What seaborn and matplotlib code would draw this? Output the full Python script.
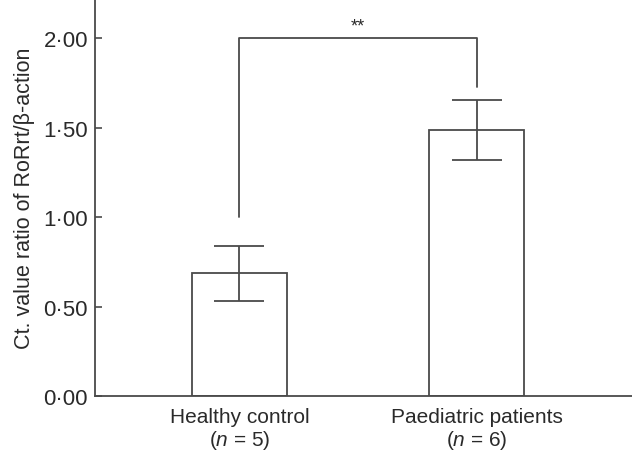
import matplotlib
matplotlib.use("Agg")
import matplotlib.pyplot as plt
import seaborn as sns
import pandas as pd
from matplotlib.ticker import FuncFormatter

categories = ["Healthy control\n($\\mathit{n}$ = 5)", "Paediatric patients\n($\\mathit{n}$ = 6)"]
means = [0.687, 1.488]
err_low = [0.158, 0.168]
err_high = [0.153, 0.166]
bracket_y = 2.00
bracket_left_end = 1.00
bracket_right_end = 1.726
sig_label = "**"
y_ticks = [0.0, 0.5, 1.0, 1.5, 2.0]

sns.set_style("white")
plt.rcParams['font.family'] = ['Liberation Sans', 'DejaVu Sans']
plt.rcParams['mathtext.fontset'] = 'custom'
plt.rcParams['mathtext.rm'] = 'Liberation Sans'
plt.rcParams['mathtext.it'] = 'Liberation Sans:italic'

col = "#4a4a4a"
txt = "#2a2a2a"
df = pd.DataFrame({"group": categories, "value": means})

fig = plt.figure(figsize=(6.32, 4.56), dpi=100)
ax = fig.add_axes([95/632, 1 - 397/456, 1 - 95/632, 397/456])
sns.barplot(data=df, x="group", y="value", ax=ax, color="white",
            edgecolor=col, linewidth=1.3, width=0.4, errorbar=None)
for p in ax.patches:
    p.set_facecolor("white")
ax.errorbar(range(len(means)), means, yerr=[err_low, err_high], fmt="none",
            ecolor=col, elinewidth=1.3, capsize=18, capthick=1.3)

# significance bracket
ax.plot([0, 0, 1, 1], [bracket_left_end, bracket_y, bracket_y, bracket_right_end],
        color=col, lw=1.3)
ax.text(0.5, bracket_y + 0.02, sig_label, ha="center", va="bottom", fontsize=13, color=txt)

ax.set_xlim(-0.608, 1.653)
ax.set_ylim(0, 2.218)
ax.set_yticks(y_ticks)
ax.yaxis.set_major_formatter(FuncFormatter(lambda v, p: f"{v:.2f}".replace(".", "\u00b7")))
ax.set_xlabel("")
ax.set_ylabel("Ct. value ratio of RoRrt/\u03b2-action", fontsize=15.5, color=txt, labelpad=6)
ax.tick_params(axis="y", direction="in", length=5, width=1.2, color=col,
               labelsize=16, labelcolor=txt, pad=5, left=True)
ax.tick_params(axis="x", length=0, labelsize=15, labelcolor=txt, pad=8)
for lbl in ax.get_xticklabels():
    lbl.set_linespacing(1.1)
for s in ["top", "right"]:
    ax.spines[s].set_visible(False)
for s in ["left", "bottom"]:
    ax.spines[s].set_color(col)
    ax.spines[s].set_linewidth(1.3)

fig.savefig("out.png", dpi=100)
